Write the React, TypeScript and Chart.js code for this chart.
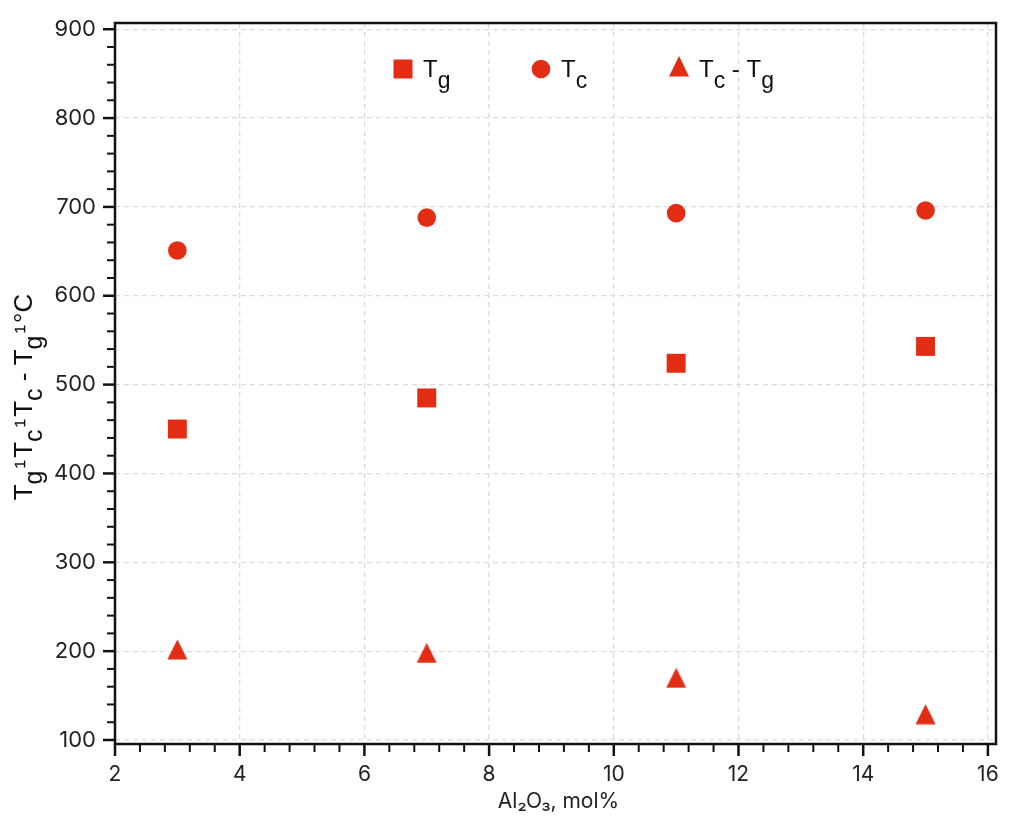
import React, { useEffect, useRef } from "react";
import { Chart, registerables } from "chart.js";

Chart.register(...registerables);

// ---- data ----
const xValues = [3, 7, 11, 15];
const tgValues = [450, 485, 524, 543];
const tcValues = [651, 688, 693, 696];
const diffValues = [202, 198, 170, 129];

const xTickValues = [2, 4, 6, 8, 10, 12, 14, 16];
const yTickValues = [100, 200, 300, 400, 500, 600, 700, 800, 900];
const xMinorStep = 0.4;
const yMinorStep = 20;

const RED = "#e22d14";
const TICK_FONT = "Inter";
const TEXT_FONT = "Liberation Sans";

type Seg = { t: string; sub?: boolean; gap?: number };
const legendItems: { marker: string; label: Seg[] }[] = [
  { marker: "square", label: [{ t: "T" }, { t: "g", sub: true }] },
  { marker: "circle", label: [{ t: "T" }, { t: "c", sub: true }] },
  {
    marker: "triangle",
    label: [{ t: "T" }, { t: "c", sub: true }, { t: " - " }, { t: "T" }, { t: "g", sub: true }],
  },
];
const yTitle: Seg[] = [
  { t: "T" }, { t: "g", sub: true, gap: 2 }, { t: "¹", gap: 2 },
  { t: "T" }, { t: "c", sub: true, gap: 2 }, { t: "¹", gap: 2 },
  { t: "T" }, { t: "c", sub: true }, { t: " - " },
  { t: "T" }, { t: "g", sub: true, gap: 2 }, { t: "¹", gap: 2 }, { t: "°C" },
];
const xTitle = "Al₂O₃, mol%";

function makeTriangle(size: number): HTMLCanvasElement {
  const c = document.createElement("canvas");
  c.width = size;
  c.height = size;
  const g = c.getContext("2d")!;
  g.fillStyle = RED;
  g.beginPath();
  g.moveTo(size / 2, 0.5);
  g.lineTo(size - 0.5, size - 0.5);
  g.lineTo(0.5, size - 0.5);
  g.closePath();
  g.fill();
  return c;
}

function segWidth(ctx: CanvasRenderingContext2D, segs: Seg[], size: number, subSize: number) {
  let w = 0;
  for (const s of segs) {
    ctx.font = `${s.sub ? subSize : size}px "${TEXT_FONT}"`;
    w += ctx.measureText(s.t).width + (s.gap || 0);
  }
  return w;
}

function drawSegs(
  ctx: CanvasRenderingContext2D,
  segs: Seg[],
  x: number,
  y: number,
  size: number,
  subSize: number,
  subShift: number
) {
  let cx = x;
  ctx.textBaseline = "alphabetic";
  ctx.textAlign = "left";
  for (const s of segs) {
    ctx.font = `${s.sub ? subSize : size}px "${TEXT_FONT}"`;
    ctx.fillText(s.t, cx, s.sub ? y + subShift : y);
    cx += ctx.measureText(s.t).width + (s.gap || 0);
  }
}

const decorPlugin = {
  id: "decor",
  afterDraw(chart: any) {
    const ctx: CanvasRenderingContext2D = chart.ctx;
    const { left, right, top, bottom } = chart.chartArea;
    const xs = chart.scales.x;
    const ys = chart.scales.y;
    ctx.save();
    ctx.strokeStyle = "#111";
    ctx.fillStyle = "#111";
    // frame
    ctx.lineWidth = 2.5;
    ctx.strokeRect(left, top, right - left, bottom - top);
    // x ticks
    ctx.lineCap = "butt";
    const x0 = xTickValues[0];
    const x1 = xTickValues[xTickValues.length - 1];
    const nx = Math.round((x1 - x0) / xMinorStep);
    for (let i = 0; i <= nx; i++) {
      const v = x0 + i * xMinorStep;
      const isMajor = i % 5 === 0;
      const px = xs.getPixelForValue(v);
      ctx.lineWidth = isMajor ? 2.5 : 2;
      ctx.beginPath();
      ctx.moveTo(px, bottom);
      ctx.lineTo(px, bottom + (isMajor ? 12 : 8));
      ctx.stroke();
    }
    const y0 = yTickValues[0];
    const y1 = yTickValues[yTickValues.length - 1];
    const ny = Math.round((y1 - y0) / yMinorStep);
    for (let i = 0; i <= ny; i++) {
      const v = y0 + i * yMinorStep;
      const isMajor = i % 5 === 0;
      const py = ys.getPixelForValue(v);
      ctx.lineWidth = isMajor ? 2.5 : 2;
      ctx.beginPath();
      ctx.moveTo(left, py);
      ctx.lineTo(left - (isMajor ? 12 : 8), py);
      ctx.stroke();
    }
    // legend
    const ly = top + 46;
    const lx = [left + 288, left + 426, left + 564];
    legendItems.forEach((it, i) => {
      const mx = lx[i];
      ctx.fillStyle = RED;
      if (it.marker === "square") {
        ctx.fillRect(mx - 9.5, ly - 9.5, 19, 19);
      } else if (it.marker === "circle") {
        ctx.beginPath();
        ctx.arc(mx, ly, 9.3, 0, Math.PI * 2);
        ctx.fill();
      } else {
        ctx.beginPath();
        ctx.moveTo(mx, ly - 13);
        ctx.lineTo(mx + 10, ly + 7.5);
        ctx.lineTo(mx - 10, ly + 7.5);
        ctx.closePath();
        ctx.fill();
      }
      ctx.fillStyle = "#111";
      drawSegs(ctx, it.label, mx + 20, ly + 8, 24, 23, 11);
    });
    // y title
    ctx.save();
    const tw = segWidth(ctx, yTitle, 26, 25);
    ctx.translate(32, 397);
    ctx.rotate(-Math.PI / 2);
    ctx.fillStyle = "#111";
    drawSegs(ctx, yTitle, -tw / 2, 0, 26, 25, 10);
    ctx.restore();
    // x title
    ctx.fillStyle = "#222";
    ctx.font = `21px "${TICK_FONT}"`;
    ctx.textAlign = "center";
    ctx.textBaseline = "middle";
    ctx.fillText(xTitle, (left + right) / 2 + 3, 802);
    ctx.restore();
  },
};

export default function App() {
  const ref = useRef<HTMLCanvasElement | null>(null);
  useEffect(() => {
    if (!ref.current) return;
    const tri = makeTriangle(21);
    const chart = new Chart(ref.current, {
      type: "scatter",
      data: {
        datasets: [
          {
            label: "Tg",
            data: xValues.map((x, i) => ({ x, y: tgValues[i] })),
            pointStyle: "rect",
            pointRadius: 13.4,
            backgroundColor: RED,
            borderColor: RED,
            borderWidth: 0,
          },
          {
            label: "Tc",
            data: xValues.map((x, i) => ({ x, y: tcValues[i] })),
            pointStyle: "circle",
            pointRadius: 9.3,
            backgroundColor: RED,
            borderColor: RED,
            borderWidth: 0,
          },
          {
            label: "Tc - Tg",
            data: xValues.map((x, i) => ({ x, y: diffValues[i] })),
            pointStyle: tri as any,
            pointRadius: 10,
            backgroundColor: RED,
            borderColor: RED,
            borderWidth: 0,
          },
        ],
      },
      options: {
        animation: false,
        responsive: true,
        maintainAspectRatio: false,
        layout: { padding: { top: 23, right: 28, left: 0, bottom: 0 } },
        plugins: {
          legend: { display: false },
          tooltip: { enabled: false },
        },
        scales: {
          x: {
            type: "linear",
            min: 2,
            max: 16.13,
            afterBuildTicks: (s: any) => {
              s.ticks = xTickValues.map((v) => ({ value: v }));
            },
            afterFit: (s: any) => {
              s.height = 74;
              s.paddingLeft = 0;
              s.paddingRight = 0;
              s.paddingTop = 0;
              s.paddingBottom = 0;
            },
            border: { display: false, dash: [5, 4] },
            grid: { color: "#dcdcdc", lineWidth: 1.3, drawTicks: false },
            ticks: {
              padding: 18,
              color: "#222",
              font: { family: TICK_FONT, size: 21 },
              maxRotation: 0,
              autoSkip: false,
            },
          },
          y: {
            type: "linear",
            min: 95.5,
            max: 907,
            afterBuildTicks: (s: any) => {
              s.ticks = yTickValues.map((v) => ({ value: v }));
            },
            afterFit: (s: any) => {
              s.width = 115;
              s.paddingLeft = 0;
              s.paddingRight = 0;
              s.paddingTop = 0;
              s.paddingBottom = 0;
            },
            border: { display: false, dash: [5, 4] },
            grid: { color: "#dcdcdc", lineWidth: 1.3, drawTicks: false },
            ticks: {
              padding: 19,
              color: "#222",
              font: { family: TICK_FONT, size: 22 },
              autoSkip: false,
            },
          },
        },
      },
      plugins: [decorPlugin],
    });
    return () => chart.destroy();
  }, []);
  return (
    <div style={{ position: "fixed", left: 0, top: 0, width: 1024, height: 818, background: "#fff" }}>
      <canvas ref={ref} />
    </div>
  );
}
